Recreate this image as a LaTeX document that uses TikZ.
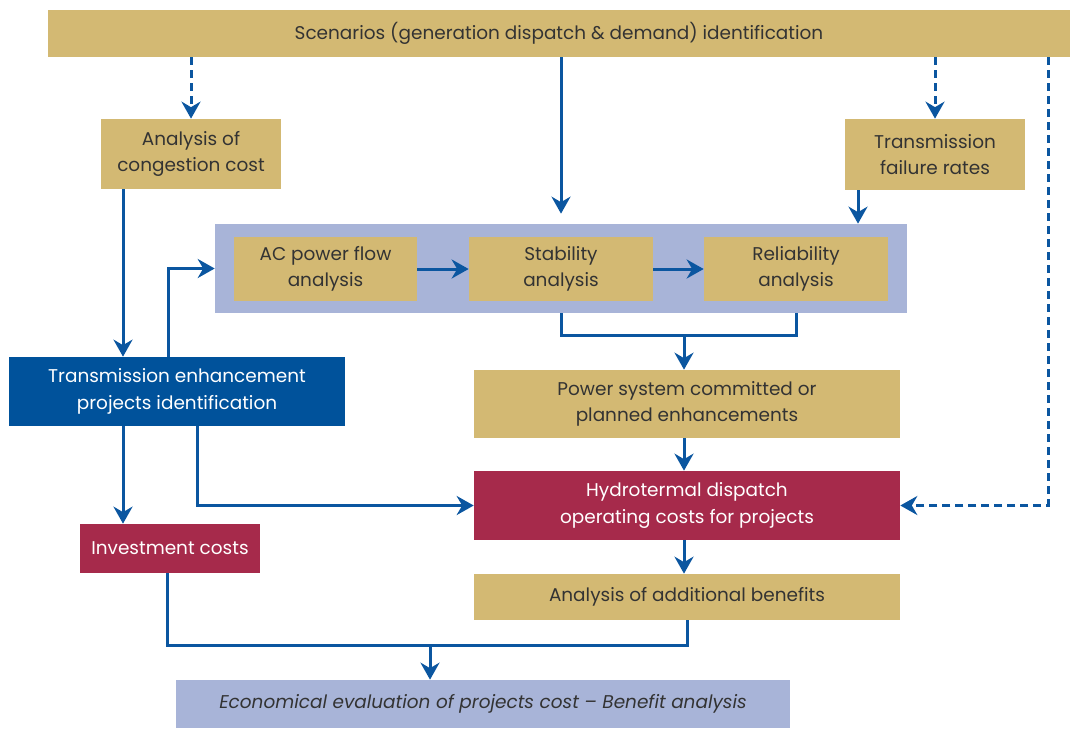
\documentclass[tikz,border=0pt]{standalone}
\usepackage{fontspec}
\setmainfont{Poppins}
\usetikzlibrary{arrows.meta,calc}
\definecolor{gold}{HTML}{D3B973}
\definecolor{lblue}{HTML}{A8B4D8}
\definecolor{dblue}{HTML}{00529B}
\definecolor{crim}{HTML}{A62A4B}
\definecolor{lineblue}{HTML}{0B56A0}
\definecolor{txt}{HTML}{333333}
\tikzset{
  box/.style={fill=gold, draw=none, text=txt, align=center, inner sep=0pt, font=\fontsize{10.5}{15}\selectfont},
  wbox/.style={box, text=white},
  conn/.style={draw=lineblue, line width=0.06cm},
  arr/.style={conn, -{Stealth[length=3.4mm, width=3.8mm, inset=1.1mm]}},
  darr/.style={arr, dash pattern=on 0.16cm off 0.1cm},
}
\begin{document}
\begin{tikzpicture}[x=0.02cm, y=-0.02cm]
\useasboundingbox (0,0) rectangle (1070,731);
% nodes
\node[box, minimum width=20.44cm, minimum height=0.94cm] (top) at (559,33.5) {Scenarios (generation dispatch \& demand) identification};
\node[box, minimum width=3.6cm, minimum height=1.4cm] (cong) at (191,154) {Analysis of\\congestion cost};
\node[box, minimum width=3.6cm, minimum height=1.42cm] (tfr) at (935,154.5) {Transmission\\failure rates};
\node[fill=lblue, minimum width=13.84cm, minimum height=1.78cm, inner sep=0pt] (cont) at (561,268.5) {};
\node[box, minimum width=3.66cm, minimum height=1.28cm] (ac) at (325.5,269) {AC power flow\\analysis};
\node[box, minimum width=3.68cm, minimum height=1.28cm] (stab) at (561,269) {Stability\\analysis};
\node[box, minimum width=3.68cm, minimum height=1.28cm] (rel) at (796,269) {Reliability\\analysis};
\node[wbox, fill=dblue, minimum width=6.72cm, minimum height=1.38cm] (tep) at (177,391.5) {Transmission enhancement\\projects identification};
\node[box, minimum width=8.52cm, minimum height=1.36cm] (pse) at (687,404) {Power system committed or\\planned enhancements};
\node[wbox, fill=crim, minimum width=8.52cm, minimum height=1.38cm] (hyd) at (687,505.5) {Hydrotermal dispatch\\operating costs for projects};
\node[wbox, fill=crim, minimum width=3.6cm, minimum height=0.98cm] (inv) at (170,548.5) {Investment costs};
\node[box, minimum width=8.52cm, minimum height=0.92cm] (aab) at (687,597) {Analysis of additional benefits};
\node[box, fill=lblue, minimum width=12.28cm, minimum height=0.96cm, font=\fontsize{10.5}{15}\selectfont\itshape] (eco) at (483,704) {Economical evaluation of projects cost -- Benefit analysis};
% helper coordinates
\coordinate (t1) at (858,0);
\coordinate (c1) at (123,0);
\coordinate (c2) at (168,0);
\coordinate (c3) at (197,0);
\coordinate (i1) at (167,0);
\coordinate (j) at (684,335);
\coordinate (b) at (430,645);
\coordinate (d) at (1048,0);
% connectors
\draw[darr] (top.south -| cong.north) -- (cong.north);
\draw[darr] (top.south -| tfr.north) -- (tfr.north);
\draw[arr, shorten >=0.2cm] (top.south -| stab.north) -- (cont.north -| stab.north);
\draw[arr] (tfr.south -| t1) -- (cont.north -| t1);
\draw[arr] (cong.south -| c1) -- (tep.north -| c1);
\draw[arr] (tep.north -| c2) |- (cont.west);
\draw[arr] (ac.east) -- (stab.west);
\draw[arr] (stab.east) -- (rel.west);
\draw[conn] (cont.south -| stab.south) |- (j -| rel.south) -- (cont.south -| rel.south);
\draw[arr] (j) -- (pse.north -| j);
\draw[arr] (pse.south -| j) -- (hyd.north -| j);
\draw[arr] (hyd.south -| j) -- (aab.north -| j);
\draw[arr] (tep.south -| c1) -- (inv.north -| c1);
\draw[arr] (tep.south -| c3) |- (hyd.west);
\draw[conn] (inv.south -| i1) |- (b -| aab.south) -- (aab.south);
\draw[arr] (b) -- (eco.north -| b);
\draw[darr] (top.south -| d) |- (hyd.east);
\end{tikzpicture}
\end{document}
